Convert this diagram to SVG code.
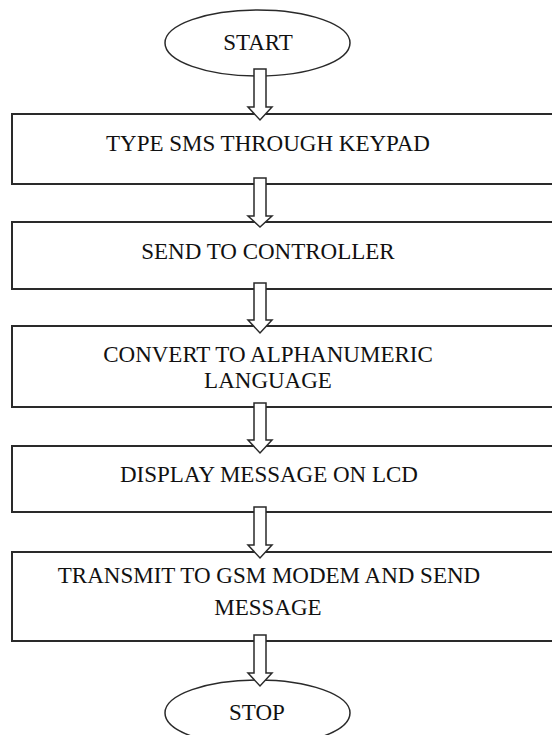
<svg xmlns="http://www.w3.org/2000/svg" width="552" height="735" viewBox="0 0 552 735">
<style>
.box{fill:#fff;stroke:#2a2a2a;stroke-width:2}
.term{fill:#fff;stroke:#2a2a2a;stroke-width:1.5}
.arr{fill:#fff;stroke:#2a2a2a;stroke-width:1.5;stroke-linejoin:miter}
text{font-family:"Liberation Serif","Times New Roman",serif;font-size:23px;fill:#111;text-anchor:middle}
</style>
<rect width="552" height="735" fill="#fff"/>
<g id="start"><ellipse class="term" cx="257.5" cy="43" rx="92.5" ry="33"/><text x="258" y="50">START</text></g>
<g id="n1"><rect class="box" x="12" y="114" width="560" height="70"/><text x="268" y="151">TYPE SMS THROUGH KEYPAD</text></g>
<g id="n2"><rect class="box" x="12" y="222" width="560" height="67"/><text x="268" y="259">SEND TO CONTROLLER</text></g>
<g id="n3"><rect class="box" x="12" y="326" width="560" height="81"/><text x="268" y="362">CONVERT TO ALPHANUMERIC</text><text x="268" y="388">LANGUAGE</text></g>
<g id="n4"><rect class="box" x="12" y="446" width="560" height="66"/><text x="269" y="482">DISPLAY MESSAGE ON LCD</text></g>
<g id="n5"><rect class="box" x="12" y="552" width="560" height="89"/><text x="269" y="583">TRANSMIT TO GSM MODEM AND SEND</text><text x="268" y="615">MESSAGE</text></g>
<g id="stop"><ellipse class="term" cx="257.5" cy="713" rx="92.5" ry="33"/><text x="257" y="720">STOP</text></g>
<g id="connectors">
<path class="arr" d="M254,69 H266 V107 H272 L260,120 L248,107 H254 Z"/>
<path class="arr" d="M254,178 H266 V216 H272 L260,227 L248,216 H254 Z"/>
<path class="arr" d="M254,283 H266 V320 H272 L260,333 L248,320 H254 Z"/>
<path class="arr" d="M254,403 H266 V440 H272 L260,453 L248,440 H254 Z"/>
<path class="arr" d="M254,507 H266 V545 H272 L260,558 L248,545 H254 Z"/>
<path class="arr" d="M254,635 H266 V673 H272 L260,686 L248,673 H254 Z"/>
</g>
</svg>
